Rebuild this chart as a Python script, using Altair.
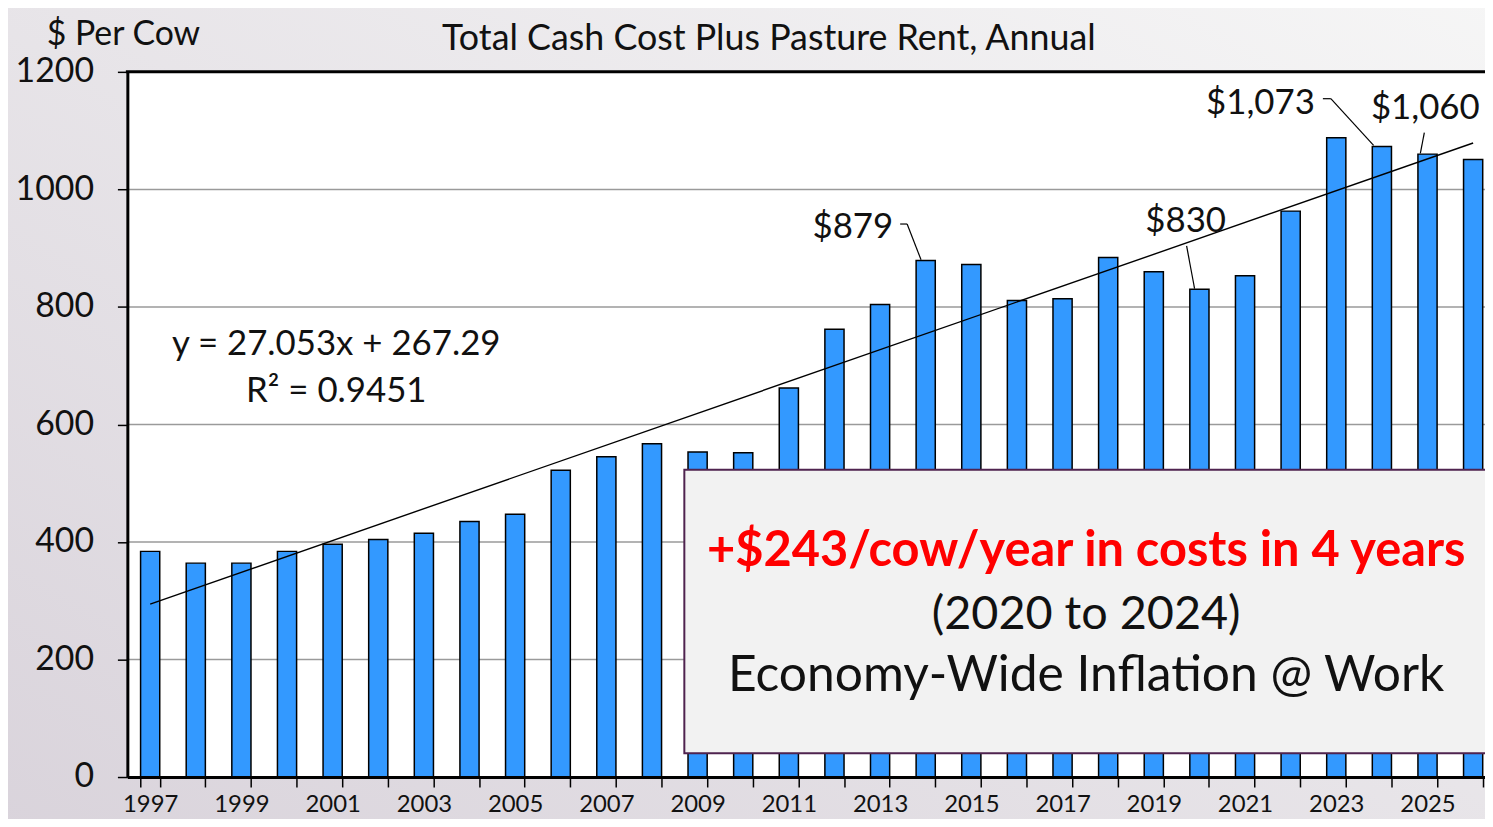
import altair as alt
import pandas as pd

# ---------------- data ----------------
years = ["1997", "1998", "1999", "2000", "2001", "2002", "2003", "2004", "2005", "2006",
         "2007", "2008", "2009", "2010", "2011", "2012", "2013", "2014", "2015", "2016",
         "2017", "2018", "2019", "2020", "2021", "2022", "2023", "2024", "2025", "2026"]
costs = [384, 364, 364, 384, 396, 404, 415, 435, 447, 522,
         545, 567, 553, 552, 662, 762, 804, 879, 872, 811,
         814, 884, 860, 830, 853, 963, 1088, 1073, 1060, 1051]
trend_years = ["1997", "2026"]
trend_values = [294.3, 1078.9]
grid_values = [200, 400, 600, 800, 1000]
y_ticks = [0, 200, 400, 600, 800, 1000, 1200]

W, H = 1365, 709
XR = 1376
FONT = "Lato"

bars_df = pd.DataFrame({"year": years, "cost": costs})
trend_df = pd.DataFrame({"year": trend_years, "cost": trend_values})
grid_df = pd.DataFrame({"v": grid_values})
one = alt.Data(values=[{}])

xscale = alt.Scale(domain=years, paddingInner=0.58, paddingOuter=0.29, range=[0, XR])
yscale = alt.Scale(domain=[0, 1200], nice=False)

x_axis = alt.Axis(
    title=None, tickBand="extent", labelAngle=0, labelFont=FONT, labelFontSize=24,
    labelColor="#111111", labelPadding=6, tickSize=10, tickColor="black", tickWidth=1.5,
    domainColor="black", domainWidth=3, grid=False, zindex=1,
    labelExpr="toNumber(datum.value) % 2 == 1 ? datum.label : ''",
)
y_axis = alt.Axis(
    title=None, values=y_ticks, format="d", labelFont=FONT, labelFontSize=34,
    labelColor="#111111", labelPadding=24, tickSize=10, tickColor="black", tickWidth=1.5,
    domainColor="black", domainWidth=3, grid=False, zindex=1,
)

bg = alt.Chart(one).mark_rect(
    fill=alt.Gradient(
        gradient="linear", x1=0, y1=1, x2=1, y2=0,
        stops=[alt.GradientStop(color="#d9d3db", offset=0),
               alt.GradientStop(color="#f6f6f6", offset=1)],
    )
).encode(x=alt.value(-140), x2=alt.value(W + 20), y=alt.value(-80), y2=alt.value(H + 60))

plot_bg = alt.Chart(one).mark_rect(fill="white").encode(
    x=alt.value(0), x2=alt.value(W + 20), y=alt.value(0), y2=alt.value(H)
)

grid = alt.Chart(grid_df).mark_rule(color="#9a9a9a", strokeWidth=1.5).encode(
    y=alt.Y("v:Q", scale=yscale, axis=y_axis), x=alt.value(0), x2=alt.value(W + 20)
)

bars = alt.Chart(bars_df).mark_bar(
    fill="#3399ff", stroke="black", strokeWidth=1.5
).encode(
    x=alt.X("year:O", scale=xscale, axis=x_axis, sort=years),
    y=alt.Y("cost:Q", scale=yscale, axis=y_axis),
)

trend = alt.Chart(trend_df).mark_line(color="black", strokeWidth=1.4).encode(
    x=alt.X("year:O", scale=xscale, sort=years, axis=x_axis),
    y=alt.Y("cost:Q", scale=yscale, axis=y_axis),
)

top_border = alt.Chart(one).mark_rule(color="black", strokeWidth=3).encode(
    x=alt.value(-1.5), x2=alt.value(W + 20), y=alt.value(0)
)

box = alt.Chart(one).mark_rect(fill="#f2f2f2", stroke="#4f234f", strokeWidth=2).encode(
    x=alt.value(560), x2=alt.value(W + 20), y=alt.value(400), y2=alt.value(685)
)


def txt(text, x, y, size, align="center", color="#111111", weight="normal"):
    return alt.Chart(one).mark_text(
        text=text, font=FONT, fontSize=size, align=align, baseline="alphabetic",
        color=color, fontWeight=weight,
    ).encode(x=alt.value(x), y=alt.value(y))


def seg(x1, y1, x2, y2):
    return alt.Chart(one).mark_rule(color="black", strokeWidth=1.2).encode(
        x=alt.value(x1), y=alt.value(y1), x2=alt.value(x2), y2=alt.value(y2)
    )


texts = [
    txt("Total Cash Cost Plus Pasture Rent, Annual", 645, -22, 36),
    txt("$ Per Cow", -4, -27, 34),
    txt("y = 27.053x + 267.29", 210, 285, 35),
    txt("R² = 0.9451", 210, 332, 35),
    txt("$879", 770, 167, 35, align="right"),
    txt("$830", 1064, 161, 35),
    txt("$1,073", 1194, 42, 35, align="right"),
    txt("$1,060", 1305, 47, 35),
    txt("+$243/cow/year in costs in 4 years", 964, 497, 49, color="#ff0000", weight="bold"),
    txt("(2020 to 2024)", 964, 560, 47),
    txt("Economy-Wide Inflation @ Work", 964, 623, 50),
]

leaders = [
    seg(777, 153, 784, 153), seg(784, 153, 798, 189),
    seg(1065, 175, 1073, 218),
    seg(1202, 27, 1210, 27), seg(1210, 27, 1253, 74),
    seg(1304, 61, 1300, 82),
]

chart = alt.layer(
    bg, plot_bg, grid, bars, trend, top_border, box, *leaders, *texts
).properties(
    width=W, height=H,
    padding={"left": 120, "top": 62, "right": 0, "bottom": 40},
    autosize=alt.AutoSizeParams(type="none"),
).configure_view(stroke=None).configure(background="#e9e7eb")

chart.save("out.html", embed_options={"renderer": "svg", "actions": False})
